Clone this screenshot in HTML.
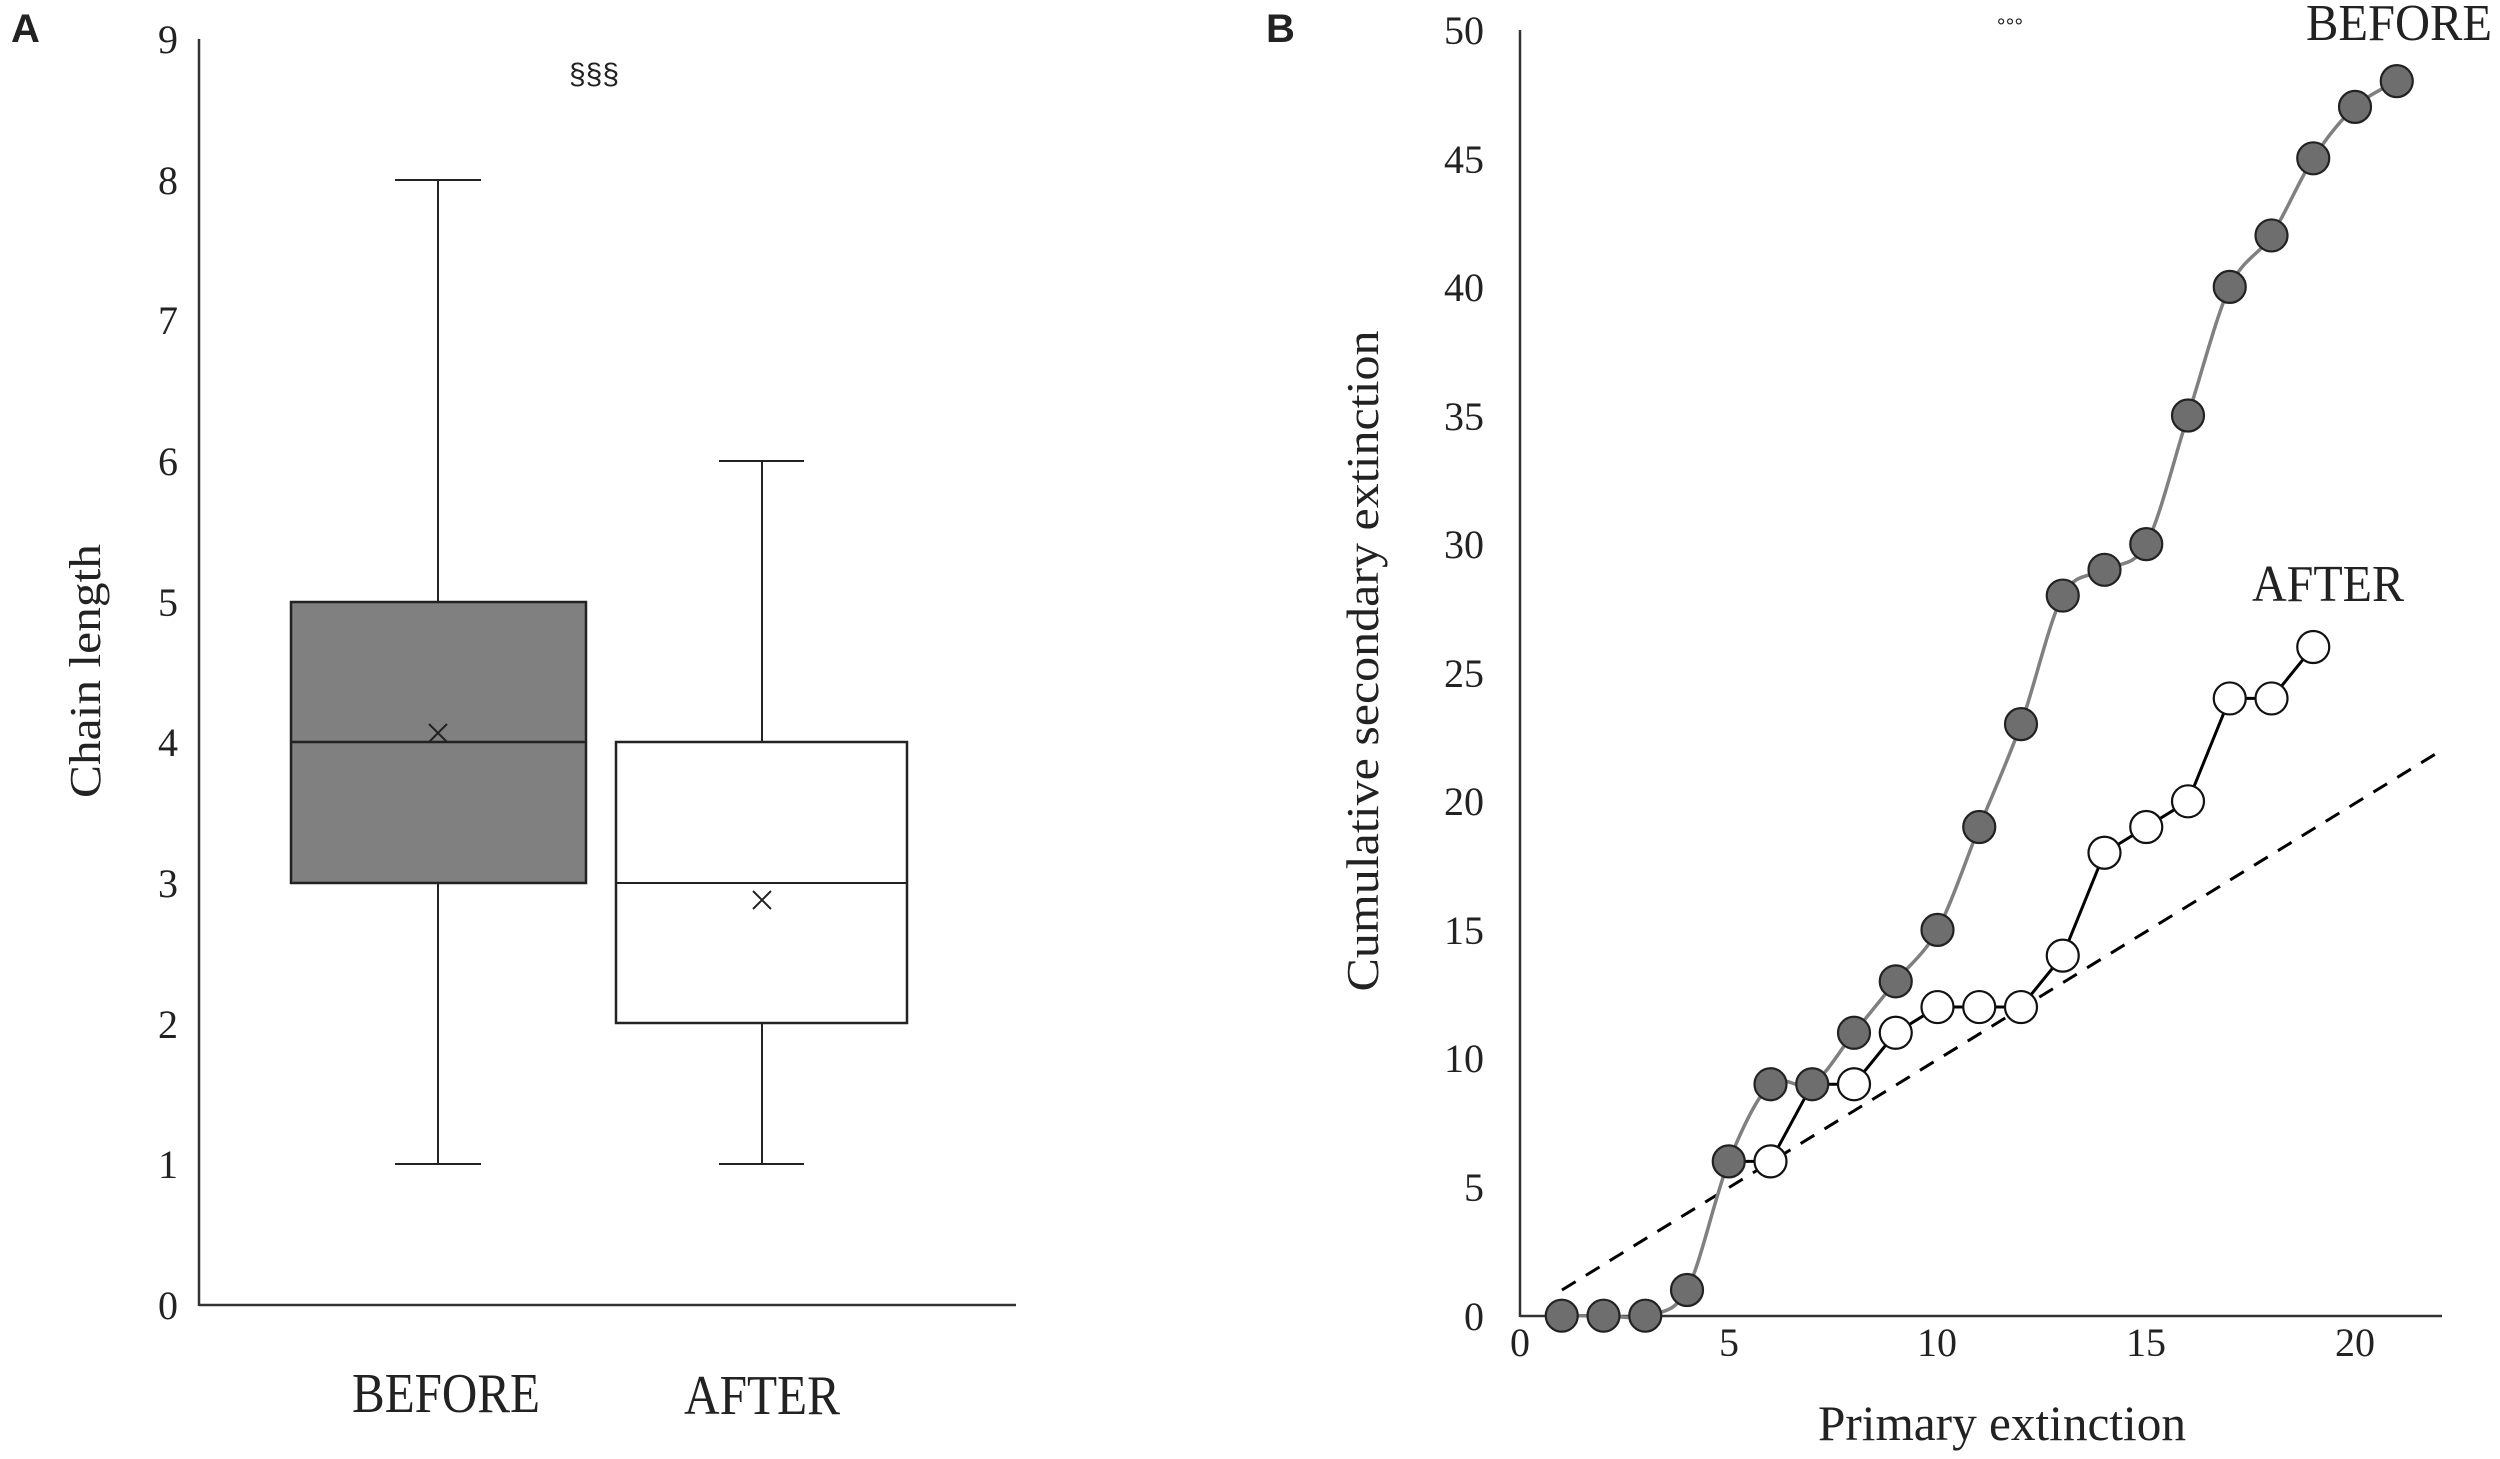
<!DOCTYPE html>
<html><head><meta charset="utf-8"><style>
html,body{margin:0;padding:0;background:#fff}
svg{display:block}
text{font-family:"Liberation Serif",serif;fill:#222}
.s{font-family:"Liberation Sans",sans-serif}
</style></head><body>
<svg id="c" width="2500" height="1459" viewBox="0 0 2500 1459" xmlns="http://www.w3.org/2000/svg">
<!-- Panel A -->
<text class="s" x="11" y="42" font-size="40" font-weight="bold" fill="#000">A</text>
<line x1="199" y1="39" x2="199" y2="1306" stroke="#333" stroke-width="2.5"/>
<line x1="199" y1="1305" x2="1016" y2="1305" stroke="#333" stroke-width="2.5"/>
<g font-size="40" text-anchor="middle">
<text x="168" y="1319">0</text><text x="168" y="1178">1</text><text x="168" y="1038">2</text>
<text x="168" y="897">3</text><text x="168" y="756">4</text><text x="168" y="616">5</text>
<text x="168" y="475">6</text><text x="168" y="334">7</text><text x="168" y="194">8</text><text x="168" y="53">9</text>
</g>
<text transform="translate(100,671) rotate(-90)" font-size="44" text-anchor="middle" textLength="254" lengthAdjust="spacingAndGlyphs">Chain length</text>
<text class="s" x="594" y="84" font-size="30" text-anchor="middle">§§§</text>
<g stroke="#222" stroke-width="2">
<line x1="438" y1="180" x2="438" y2="1164"/>
<line x1="395" y1="180" x2="481" y2="180"/>
<line x1="395" y1="1164" x2="481" y2="1164"/>
<rect x="291" y="602" width="295" height="281" fill="#808080" stroke-width="2.5"/>
<line x1="291" y1="742" x2="586" y2="742" stroke-width="2.5"/>
<path d="M429 724 L447 742 M447 724 L429 742"/>
<line x1="762" y1="461" x2="762" y2="1164"/>
<line x1="719" y1="461" x2="804" y2="461"/>
<line x1="719" y1="1164" x2="804" y2="1164"/>
<rect x="616" y="742" width="291" height="281" fill="#fff" stroke-width="2.5"/>
<line x1="616" y1="883" x2="907" y2="883"/>
<path d="M753 891 L771 909 M771 891 L753 909"/>
</g>
<text x="446" y="1412" font-size="56" text-anchor="middle" textLength="188" lengthAdjust="spacingAndGlyphs">BEFORE</text>
<text x="762" y="1414" font-size="56" text-anchor="middle" textLength="156" lengthAdjust="spacingAndGlyphs">AFTER</text>

<!-- Panel B -->
<text class="s" x="1266" y="42" font-size="40" font-weight="bold" fill="#000">B</text>
<line x1="1520" y1="30" x2="1520" y2="1317" stroke="#333" stroke-width="2.5"/>
<line x1="1520" y1="1316" x2="2442" y2="1316" stroke="#333" stroke-width="2.5"/>
<g font-size="40" text-anchor="end">
<text x="1484" y="1330">0</text><text x="1484" y="1201">5</text><text x="1484" y="1072">10</text>
<text x="1484" y="944">15</text><text x="1484" y="815">20</text><text x="1484" y="687">25</text>
<text x="1484" y="558">30</text><text x="1484" y="430">35</text><text x="1484" y="301">40</text>
<text x="1484" y="173">45</text><text x="1484" y="44">50</text>
</g>
<g font-size="40" text-anchor="middle">
<text x="1520" y="1356">0</text><text x="1729" y="1356">5</text><text x="1937" y="1356">10</text>
<text x="2146" y="1356">15</text><text x="2355" y="1356">20</text>
</g>
<text x="2002" y="1440" font-size="50" text-anchor="middle" textLength="368" lengthAdjust="spacingAndGlyphs">Primary extinction</text>
<text transform="translate(1378,661) rotate(-90)" font-size="46" text-anchor="middle" textLength="661" lengthAdjust="spacingAndGlyphs">Cumulative secondary extinction</text>
<text class="s" x="2010" y="34" font-size="22" text-anchor="middle">°°°</text>
<text x="2399" y="40" font-size="52" text-anchor="middle" textLength="186" lengthAdjust="spacingAndGlyphs">BEFORE</text>
<text x="2328" y="601" font-size="52" text-anchor="middle" textLength="152" lengthAdjust="spacingAndGlyphs">AFTER</text>
<line x1="1562" y1="1290" x2="2442" y2="750" stroke="#000" stroke-width="3" stroke-dasharray="16,12"/>
<g id="series"></g>
</svg>
<script>
(function(){
var X=function(i){return 1520+41.75*i}, Y=function(v){return 1315.7-25.72*v};
var b=[0,0,0,1,6,9,9,11,13,15,19,23,28,29,30,35,40,42,45,47,48];
var bp=b.map(function(v,i){return [X(i+1),Y(v)]});
var d="M"+bp[0][0]+" "+bp[0][1];
for(var i=0;i<bp.length-1;i++){
 var p0=bp[Math.max(0,i-1)],p1=bp[i],p2=bp[i+1],p3=bp[Math.min(bp.length-1,i+2)];
 var t=0.16;
 d+=" C"+(p1[0]+(p2[0]-p0[0])*t)+" "+(p1[1]+(p2[1]-p0[1])*t)+" "+(p2[0]-(p3[0]-p1[0])*t)+" "+(p2[1]-(p3[1]-p1[1])*t)+" "+p2[0]+" "+p2[1];
}
var a=[[5,6],[6,6],[7,9],[8,9],[9,11],[10,12],[11,12],[12,12],[13,14],[14,18],[15,19],[16,20],[17,24],[18,24],[19,26]];
var ap=a.map(function(q){return [X(q[0]),Y(q[1])]});
var ad="M"+ap.map(function(p){return p[0]+" "+p[1]}).join(" L");
var s='<path d="'+d+'" fill="none" stroke="#808080" stroke-width="3.5"/>';
s+='<path d="'+ad+'" fill="none" stroke="#000" stroke-width="3"/>';
for(var j=1;j<ap.length;j++){ if(a[j][0]==7) continue; s+='<circle cx="'+ap[j][0]+'" cy="'+ap[j][1]+'" r="16" fill="#fff" stroke="#111" stroke-width="2.2"/>';}
bp.forEach(function(p){s+='<circle cx="'+p[0]+'" cy="'+p[1]+'" r="16" fill="#6e6e6e" stroke="#222" stroke-width="2.2"/>';});
document.getElementById("series").innerHTML=s;
})();
</script>
</body></html>
